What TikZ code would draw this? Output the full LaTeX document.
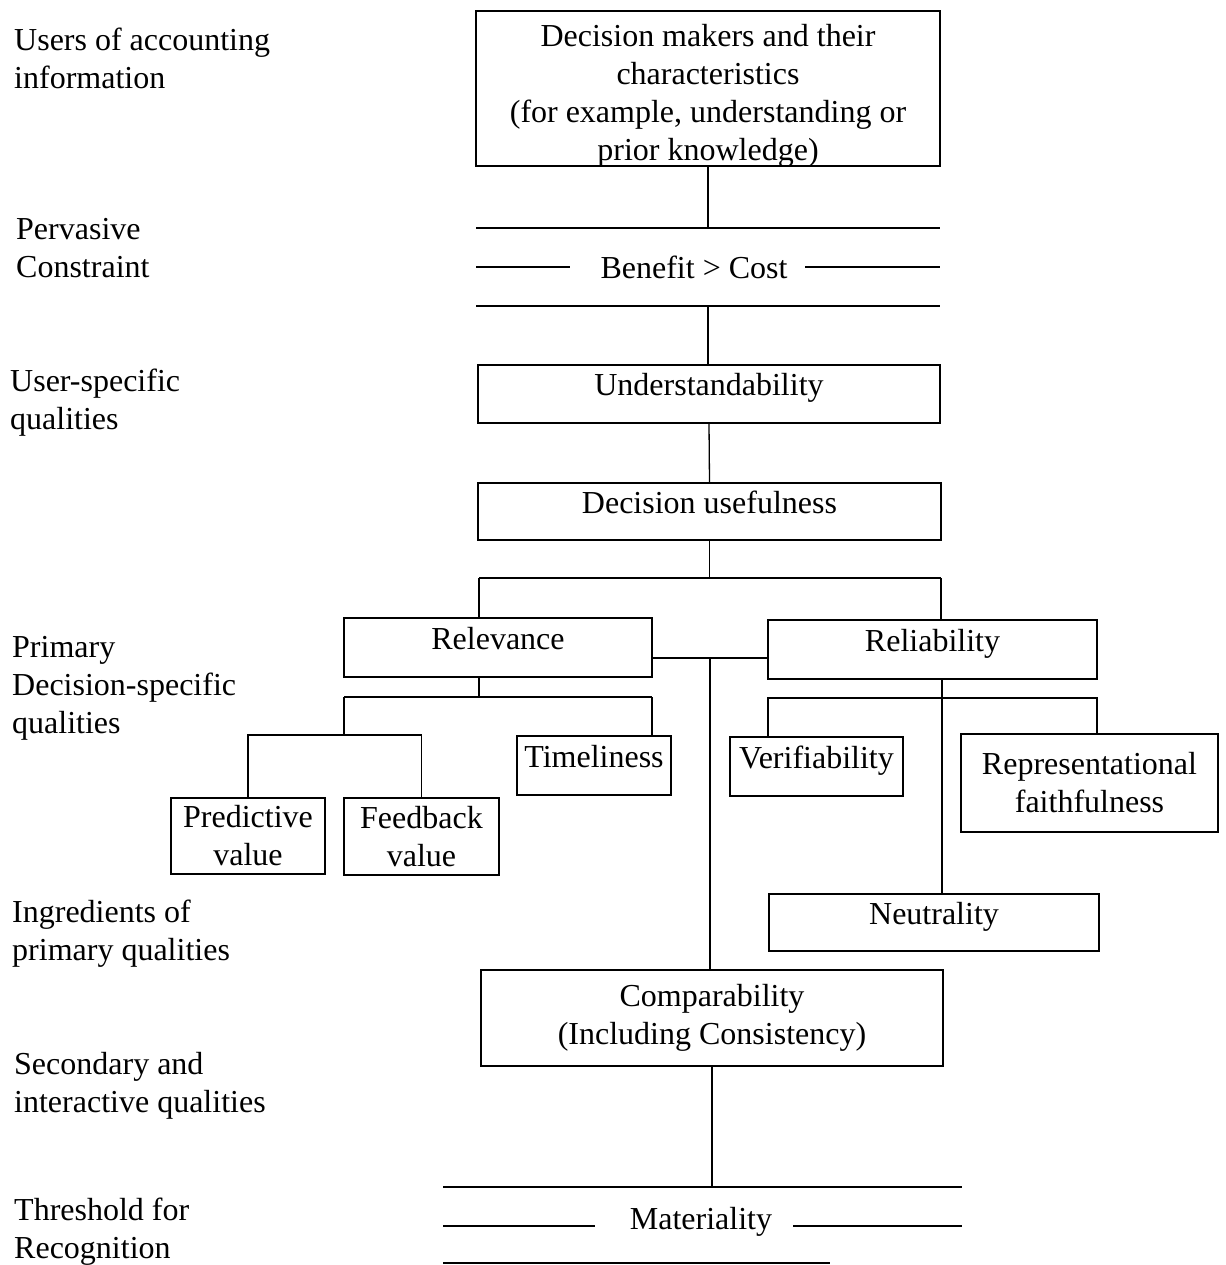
\documentclass[tikz,border=0pt]{standalone}
\usepackage{fontspec}
\setmainfont{Liberation Serif}
\begin{document}
\begin{tikzpicture}[x=1pt,y=-1pt,
  every node/.style={font=\fontsize{32}{38}\selectfont},
  ln/.style={line width=1.3pt},
  box/.style={draw, line width=1.3pt, inner sep=0pt, align=center},
  one/.style={text height=0.7em, text depth=0.38em},
  lab/.style={anchor=west, align=left, inner sep=0pt}]
\useasboundingbox (0,0) rectangle (1225,1265);

% left labels
\node[lab] (l1) at (14,58) {Users of accounting\\information};
\node[lab] (l2) at (16,248) {Pervasive\\Constraint};
\node[lab] (l3) at (10,403) {User-specific\\qualities};
\node[lab] (l4) at (12,688) {Primary\\Decision-specific\\qualities};
\node[lab] (l5) at (12,934) {Ingredients of\\primary qualities};
\node[lab] (l6) at (14,1086) {Secondary and\\interactive qualities};
\node[lab] (l7) at (14,1232) {Threshold for\\Recognition};

% top box
\node[box, minimum width=464pt, minimum height=155pt] (dm) at (708,88.5) {};
\node[align=center, inner sep=0pt] (dmt) at (708,96) {Decision makers and their\\characteristics\\(for example, understanding or\\prior knowledge)};

% benefit > cost band
\coordinate (b1) at (708,228);
\draw[ln] (dm.south) -- (b1);
\draw[ln] (476,228) -- (940,228);
\node[inner sep=0pt] (bc) at (694,267) {Benefit > Cost};
\draw[ln] (476,267) -- (570,267);
\draw[ln] (805,267) -- (940,267);
\coordinate (b2) at (708,306);
\draw[ln] (476,306) -- (940,306);

% main boxes
\node[box, one, minimum width=462pt, minimum height=58pt] (und) at (709,394) {Understandability};
\node[box, one, minimum width=463pt, minimum height=57pt] (du) at (709.5,511.5) {Decision usefulness};
\draw[ln] (b2) -- (b2 |- und.north);
\draw[ln] (und.south) -- (du.north);

\node[box, one, minimum width=308pt, minimum height=59pt] (rel) at (498,647.5) {Relevance};
\node[box, one, minimum width=329pt, minimum height=59pt] (rly) at (932.5,649.5) {Reliability};

\coordinate (brL) at (479,578);
\coordinate (brR) at (941,578);
\draw[ln] (du.south) -- (du.south |- brL);
\draw[ln] (brL) -- (brR);
\draw[ln] (brL) -- (brL |- rel.north);
\draw[ln] (brR) -- (brR |- rly.north);

% relevance children
\node[box, one, minimum width=154pt, minimum height=59pt] (tim) at (594,765.5) {Timeliness};
\node[box, minimum width=154pt, minimum height=76pt] (pre) at (248,836) {Predictive\\value};
\node[box, minimum width=155pt, minimum height=77pt] (fb) at (421.5,836.5) {Feedback\\value};
\coordinate (rj) at (479,697);
\coordinate (rjL) at (344,697);
\coordinate (rjR) at (652,697);
\coordinate (pj) at (344,735);
\draw[ln] (rj |- rel.south) -- (rj);
\draw[ln] (rjL) -- (rjR);
\draw[ln] (rjR) -- (rjR |- tim.north);
\draw[ln] (rjL) -- (pj);
\draw[ln] (pre.north) -- (pre.north |- pj) -| (fb.north);

% reliability children
\node[box, one, minimum width=173pt, minimum height=59pt] (ver) at (816.5,766.5) {Verifiability};
\node[box, minimum width=257pt, minimum height=98pt] (rep) at (1089.5,783) {Representational\\faithfulness};
\node[box, one, minimum width=330pt, minimum height=57pt] (neu) at (934,922.5) {Neutrality};
\coordinate (nx) at (942,698);
\coordinate (vjL) at (768,698);
\coordinate (vjR) at (1097,698);
\draw[ln] (nx |- rly.south) -- (nx |- neu.north);
\draw[ln] (vjL |- ver.north) -- (vjL) -- (vjR) -- (vjR |- rep.north);

% comparability
\node[box, minimum width=462pt, minimum height=96pt] (cmp) at (712,1018) {Comparability\\(Including Consistency)};
\coordinate (mid) at (710,658);
\draw[ln] (rel.east |- mid) -- (rly.west |- mid);
\draw[ln] (mid) -- (mid |- cmp.north);

% materiality band
\coordinate (m1) at (712,1187);
\draw[ln] (cmp.south) -- (m1);
\draw[ln] (443,1187) -- (962,1187);
\node[inner sep=0pt] (mat) at (701,1222) {Materiality};
\draw[ln] (443,1226) -- (595,1226);
\draw[ln] (793,1226) -- (962,1226);
\draw[ln] (443,1263) -- (830,1263);
\end{tikzpicture}
\end{document}
